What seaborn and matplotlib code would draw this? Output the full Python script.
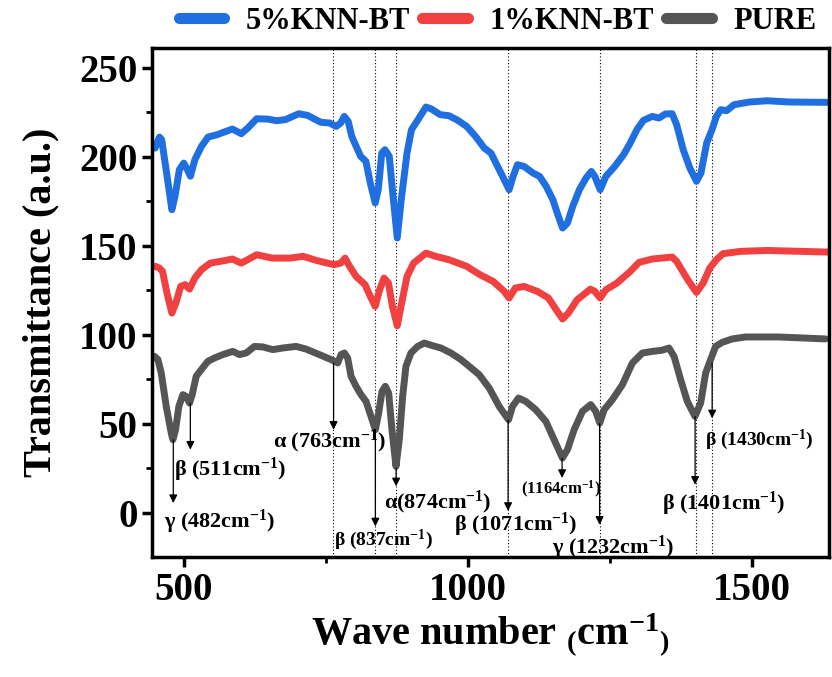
import matplotlib
matplotlib.use("Agg")
import matplotlib.pyplot as plt
import seaborn as sns
import pandas as pd

# ---------------- data ----------------
blue_x = [450, 457.7, 461.6, 469.4, 479.5, 485, 492.7, 500.5, 506.7, 512.1, 520, 531.6, 543.2, 558.8, 570.5,
          586, 601.6, 613.2, 628.8, 648.2, 663.8, 679.3, 702.6, 718.2, 741.5, 757.1, 768.7, 776.5, 782.7,
          789.7, 796, 803.7, 811.5, 820.8, 828.6, 837.2, 842.6, 848.8, 854.3, 862, 867.5, 876, 883, 893.2,
          901, 912.6, 926.6, 935.9, 951.5, 967, 982.6, 998.1, 1013.7, 1029.2, 1040.9, 1052.6, 1064.2, 1072.8,
          1079.8, 1087.5, 1099.2, 1114.8, 1126.5, 1138.1, 1149.8, 1157.5, 1166.9, 1175.4, 1184.8, 1196.4,
          1208.1, 1217.4, 1223.6, 1233, 1243, 1258.6, 1274.2, 1285.9, 1297.5, 1309.2, 1324.7, 1336.4, 1348,
          1359.7, 1367.5, 1379.1, 1390.8, 1402.5, 1410.3, 1420.4, 1429.7, 1437.5, 1445.2, 1455.4, 1468.6,
          1495.8, 1526.9, 1565.8, 1633.4]
blue_y = [204.8, 211, 209.5, 192.7, 170.2, 177.7, 192.7, 196.4, 192.7, 189, 198.3, 205.8, 211, 212.3, 213.7,
          215.5, 212.9, 216.1, 221.3, 221.1, 220.2, 220.8, 224.1, 223.2, 219.3, 218.9, 217, 218.9, 222.6,
          219.8, 211.4, 205.8, 200.2, 197.4, 185.2, 174, 181.4, 202, 203.9, 200.2, 181.4, 154.3, 175.8, 202,
          215.1, 220.8, 227.9, 226.8, 223.6, 223, 220.4, 217, 211.4, 204.8, 202, 194.5, 187.1, 181.4,
          188.9, 195.5, 194.5, 190.8, 188.9, 183.3, 175.8, 168.3, 159.9, 162.7, 172.1, 181.4,
          188, 191.7, 188.9, 181.4, 188.9, 194.5, 201.1, 207.7, 215.1, 220.4, 222.6, 221.7, 224,
          224.1, 218, 203.9, 193.6, 186.1, 190.8, 207.7, 215.1, 222.6, 226.4, 225.8, 229.2,
          230.7, 231.4, 230.7, 230.5]

red_x = [450, 457.7, 463.1, 470.9, 479.5, 486.5, 495, 502.8, 510.6, 519.9, 531.6, 547.1, 570.5, 586, 601.6,
         628.8, 656, 687.1, 710.4, 733.7, 764.8, 776.5, 784.3, 792.1, 803.7, 819.3, 828.6, 837.2, 845,
         852.7, 860.5, 867.5, 876, 883.8, 893.2, 904.8, 926.6, 943.7, 967, 998.1, 1021.5, 1044.8, 1064.2,
         1072.8, 1083.7, 1099.2, 1122.6, 1142, 1157.5, 1166.9, 1177, 1192.5, 1215.9, 1223.6, 1233, 1243,
         1262.5, 1285.9, 1301.4, 1324.7, 1359.7, 1367.5, 1387, 1402.5, 1414.1, 1425.8, 1437.5, 1449.1,
         1480.3, 1526.9, 1633.4]
red_y = [138.4, 137.4, 135.5, 123.4, 112.1, 117.8, 127.1, 128.1, 125.6, 131.8, 136.5, 140.2, 141.5, 142.5, 140.2,
         144.9, 143, 143, 144, 141.7, 139.3, 140.2, 143, 138.4, 132.7, 128.1, 121.5, 115.9, 125.2,
         131.8, 129, 115.9, 105, 117.8, 132.7, 140.2, 145.8, 144, 142.1, 138.4, 133.7, 129.9, 124.3,
         120.6, 126.2, 127.1, 124.3, 120.6, 113.1, 108.8, 112.1, 119.6, 125.6, 124.3, 120.6, 125.2,
         129, 135.5, 140.6, 142.5, 143.6, 141.2, 130.9, 123.7, 129, 137.4, 142.1, 145.5,
         146.8, 147.3, 146.4]

pure_x = [449, 455, 460.8, 469.6, 478.4, 481.3, 486, 491.8, 498.9, 504.7, 510.6, 515.3, 522.3, 531.1, 542.8,
          554.5, 569.2, 586.7, 598.4, 610.2, 624.8, 639.4, 657, 674.6, 698, 715.6, 739, 762.5, 771.3, 777.1,
          783, 788.8, 794.7, 803.5, 812.3, 821.1, 829.8, 837.5, 843.3, 849.2, 855, 860.9, 866.7, 873.8,
          879.6, 885.5, 891.3, 900.1, 911.8, 923.6, 938.2, 952.9, 970.4, 988, 1002.6, 1020.2, 1037.8,
          1055.3, 1071.8, 1078.8, 1089.3, 1102.2, 1119.8, 1137.4, 1152, 1166.6, 1175.4, 1187.2, 1201.8,
          1216.4, 1225.2, 1232.3, 1239.9, 1254.5, 1272.1, 1289.7, 1307.3, 1324.8, 1341.2, 1354.1, 1363,
          1374.6, 1386.3, 1399.8, 1409.8, 1418.6, 1427.3, 1436.1, 1447.9, 1465.4, 1488.9, 1547.4, 1629.4]
pure_y = [87.8, 86, 78.5, 59.7, 44.7, 41, 46.6, 59.7, 66.3, 65.3, 61.6, 66.3, 76.6, 80.3, 85,
          86.9, 88.8, 90.6, 88.8, 89.7, 93.4, 93.1, 91.6, 92.5, 93.4, 91.9, 88.8, 85.6, 84.1, 88.8,
          89.7, 86.9, 76.6, 71, 66.3, 62.5, 54.1, 46.6, 56, 68.1, 71, 67.2, 46.6, 26,
          41, 65.3, 82.2, 89.7, 93.4, 95.3, 93.8, 92.5, 89.7, 86, 82.2, 77.5, 70,
          59.7, 52.2, 59.7, 64.4, 62.5, 57.8, 51.3, 41, 30.7, 35.4, 46.6, 56.9,
          60.7, 56.9, 50.4, 57.8, 63.5, 71.9, 84.1, 89.7, 90.6, 91.2, 92.5, 87.8,
          74.7, 62.5, 54.1, 61.6, 78.5, 86, 93.4, 95.7, 97.6, 98.7, 98.7, 97.6]

series_names = ["5%KNN-BT", "1%KNN-BT", "PURE"]
series_colors = ["#1f6fe0", "#f04040", "#555555"]

peak_lines = [763, 837, 874, 1071, 1232, 1401, 1430]

# annotation: label text, arrow x, arrow start y, arrow end y, text left x, text y, font size
ann_labels = ["γ (482cm$^{-1}$)", "β (511cm$^{-1}$)", "α (763cm$^{-1}$)", "β (837cm$^{-1}$)",
              "α(874cm$^{-1}$)", "β (1071cm$^{-1}$)", "(1164cm$^{-1}$)", "γ (1232cm$^{-1}$)",
              "β (1401cm$^{-1}$)", "β (1430cm$^{-1}$)"]
ann_x = [482, 512, 764, 837.5, 874, 1071, 1166, 1232, 1400, 1430]
ann_y0 = [41, 61.6, 84, 46.6, 25, 52, 30.7, 50, 54, 84]
ann_y1 = [5.4, 35.4, 46.6, -7.7, 14.8, 1, 19.5, -6.8, 15.7, 53]
ann_tx = [466, 484, 657, 765, 853, 976, 1093, 1149, 1342, 1418]
ann_ty = [-5, 24, 40, -15, 6, -7, 13, -20, 5, 41]
ann_fs = [16, 16, 16, 14, 16, 16, 12, 16, 16, 14]

# ---------------- plot ----------------
frames = []
for name, xs, ys in zip(series_names, [blue_x, red_x, pure_x], [blue_y, red_y, pure_y]):
    frames.append(pd.DataFrame({"wave": xs, "T": ys, "sample": name}))
df = pd.concat(frames, ignore_index=True)

sns.set_style("ticks")
plt.rcParams["font.family"] = ["Liberation Serif", "DejaVu Serif"]
plt.rcParams["font.weight"] = "bold"
plt.rcParams["mathtext.fontset"] = "custom"
plt.rcParams["mathtext.rm"] = "Liberation Serif:bold"
plt.rcParams["mathtext.it"] = "Liberation Serif:bold"
plt.rcParams["mathtext.bf"] = "Liberation Serif:bold"
for key in ["text.color", "axes.labelcolor", "xtick.color", "ytick.color", "axes.edgecolor"]:
    plt.rcParams[key] = "black"

fig = plt.figure(figsize=(8.32, 6.77), dpi=100)
ax = fig.add_axes([0.183, 0.177, 0.813, 0.752])

sns.lineplot(data=df, x="wave", y="T", hue="sample", palette=dict(zip(series_names, series_colors)),
             hue_order=series_names, estimator=None, sort=False, linewidth=5, ax=ax, legend=False)

for xv in peak_lines:
    ax.axvline(xv, color="black", linestyle=(0, (1, 2)), linewidth=0.8, zorder=0)

for lab, xa, y0, y1, tx, ty, fs in zip(ann_labels, ann_x, ann_y0, ann_y1, ann_tx, ann_ty, ann_fs):
    ax.annotate("", xy=(xa, y1), xytext=(xa, y0),
                arrowprops=dict(arrowstyle="-|>", color="black", lw=0.9, mutation_scale=12,
                                shrinkA=0, shrinkB=0))
    ax.text(tx, ty, lab, fontsize=fs, fontweight="bold", ha="left", va="center", color="black")

ax.set_xlim(445, 1635)
ax.set_ylim(-25, 261)
ax.set_xticks([500, 1000, 1500])
ax.set_xticks([750, 1250], minor=True)
ax.set_yticks([0, 50, 100, 150, 200, 250])
ax.set_yticks([25, 75, 125, 175, 225], minor=True)
ax.tick_params(axis="both", which="major", direction="out", length=7, width=2.5, labelsize=28,
               colors="black")
ax.tick_params(axis="both", which="minor", direction="out", length=4, width=2, colors="black")
for lbl in ax.get_xticklabels() + ax.get_yticklabels():
    lbl.set_fontweight("bold")
for sp in ax.spines.values():
    sp.set_linewidth(2.5)
    sp.set_visible(True)
    sp.set_color("black")

ax.set_xlabel("Wave number $_{(}$cm$^{-1}$$_{)}$", fontsize=29, fontweight="bold", labelpad=2)
ax.set_ylabel("Transmittance (a.u.)", fontsize=29, fontweight="bold", labelpad=14)

handles = [plt.Line2D([], [], color=c, linewidth=8, solid_capstyle="round") for c in series_colors]
fig.legend(handles, series_names, loc="center right", bbox_to_anchor=(1.0, 0.968), ncol=3, frameon=False,
           prop={"family": "Liberation Serif", "weight": "bold", "size": 22}, handlelength=1.5,
           handletextpad=0.7, columnspacing=0.4, borderaxespad=0.1, labelcolor="black")

fig.savefig("out.png", dpi=100)
